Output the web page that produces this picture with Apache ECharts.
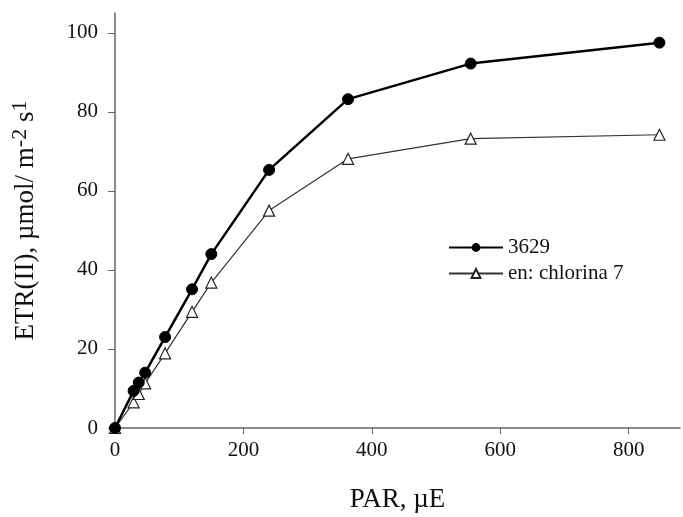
<!DOCTYPE html>
<html>
<head>
<meta charset="utf-8">
<script src="https://cdn.jsdelivr.net/npm/echarts@6/dist/echarts.min.js"></script>
<style>html,body{margin:0;padding:0;background:#fff}#c{width:683px;height:517px}</style>
</head>
<body>
<div id="c"></div>
<script>
const parValues = [0, 29, 37, 47, 78, 120, 150, 240, 363, 554, 848];
const series3629 = [0, 9.4, 11.5, 14, 23, 35.1, 44, 65.3, 83.2, 92.2, 97.5];
const seriesChlorina = [0, 6.5, 8.6, 11.3, 18.9, 29.4, 36.8, 55, 68.1, 73.2, 74.2];
const seriesNames = ['3629', 'en: chlorina 7'];
const xTicks = [0, 200, 400, 600, 800];
const yTicks = [0, 20, 40, 60, 80, 100];

const font = '"Liberation Serif", "Times New Roman", serif';
const chart = echarts.init(document.getElementById('c'));
const pairs = (ys) => parValues.map((x, i) => [x, ys[i]]);
chart.setOption({
  animation: false,
  backgroundColor: '#fff',
  grid: { left: 115, right: 3, top: 13, bottom: 89, containLabel: false, outerBoundsMode: 'none' },
  legend: {
    orient: 'vertical', left: 443, top: 232,
    itemWidth: 54, itemHeight: 11, itemGap: 5,
    textStyle: { fontFamily: font, fontSize: 21, color: '#111' },
    data: seriesNames
  },
  xAxis: {
    type: 'value', min: 0, max: 880, interval: 200,
    axisLine: { lineStyle: { color: '#666', width: 1.5 } },
    axisTick: { show: true, length: 6, lineStyle: { color: '#666' } },
    splitLine: { show: false },
    axisLabel: { fontFamily: font, fontSize: 21, color: '#111', margin: 12, showMaxLabel: false,
      formatter: v => xTicks.includes(v) ? String(v) : '' },
    name: 'PAR, µE', nameLocation: 'middle', nameGap: 58,
    nameTextStyle: { fontFamily: font, fontSize: 27, color: '#111' }
  },
  yAxis: {
    type: 'value', min: 0, max: 105, interval: 20,
    axisLine: { show: true, lineStyle: { color: '#666', width: 1.5 } },
    axisTick: { show: true, length: 7, lineStyle: { color: '#666' } },
    splitLine: { show: false },
    axisLabel: { fontFamily: font, fontSize: 21, color: '#111', margin: 17, showMaxLabel: false,
      formatter: v => yTicks.includes(v) ? String(v) : '' },
    name: 'ETR(II), µmol/ m{sup|-2} s{sup|1}', nameLocation: 'middle', nameGap: 72,
    nameTextStyle: { fontFamily: font, fontSize: 27, color: '#111',
      rich: { sup: { fontFamily: font, fontSize: 22, color: '#111', verticalAlign: 'top', padding: [0, 0, 12, 0] } } }
  },
  series: [
    {
      name: seriesNames[0], type: 'line', data: pairs(series3629),
      symbol: 'circle', symbolSize: 11,
      lineStyle: { color: '#000', width: 2.5 },
      itemStyle: { color: '#000', borderColor: '#000' },
      z: 3
    },
    {
      name: seriesNames[1], type: 'line', data: pairs(seriesChlorina),
      symbol: 'triangle', symbolSize: 11,
      lineStyle: { color: '#333', width: 1.2 },
      itemStyle: { color: '#fff', borderColor: '#222', borderWidth: 1.2 },
      z: 2
    }
  ]
});
</script>
</body>
</html>
